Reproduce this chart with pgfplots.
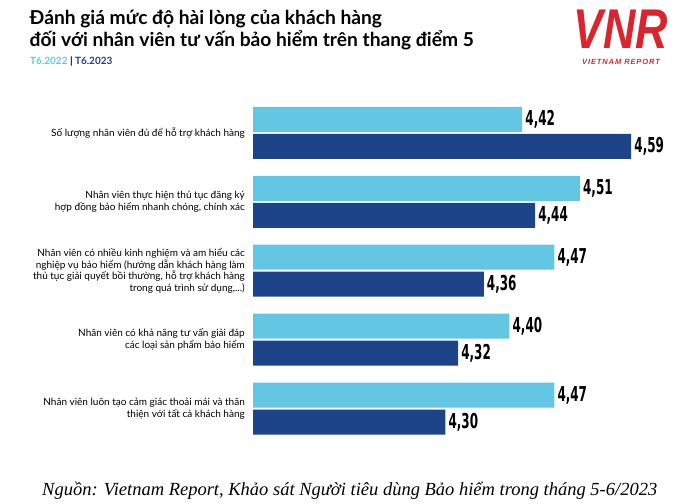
\documentclass[border=0pt]{standalone}
\usepackage{fontspec}
\usepackage{pgfplots}
\pgfplotsset{compat=1.18}
\setmainfont{Lato}
\newfontfamily\numfont[FakeStretch=0.65,BoldFont={DejaVu Sans Condensed Bold}]{DejaVu Sans Condensed}
\newfontfamily\srcfont{Liberation Serif}
\newfontfamily\logofont[LetterSpace=12]{Liberation Sans}
\newfontfamily\logobig{Liberation Sans}
\definecolor{lb}{HTML}{63C7E4}
\definecolor{db}{HTML}{1D4388}
\definecolor{vnr}{HTML}{D9262E}
\begin{document}
\begin{tikzpicture}[x=1pt,y=1pt]
\useasboundingbox (0,0) rectangle (700,503);
\node[anchor=base west, inner sep=0, font=\fontsize{19.2}{22}\selectfont\bfseries] at (29.5,478) {Đánh giá mức độ hài lòng của khách hàng};
\node[anchor=base west, inner sep=0, font=\fontsize{19.2}{22}\selectfont\bfseries] at (29.5,456) {đối với nhân viên tư vấn bảo hiểm trên thang điểm 5};
\node[anchor=base west, inner sep=0, font=\fontsize{10}{12}\selectfont\bfseries] at (30,438) {\textcolor{lb}{T6.2022} | \textcolor{db}{T6.2023}};
\node[anchor=base, inner sep=0, text depth=0pt, text=vnr, font=\fontsize{56}{56}\selectfont\logobig\bfseries\itshape] at (621,454) {\scalebox{0.8}[1]{VNR}};
\node[anchor=base, inner sep=0, text=vnr, font=\fontsize{7.5}{8}\selectfont\logofont\bfseries\itshape] at (621,438) {VIETNAM REPORT};
\node[anchor=base west, inner sep=0, font=\fontsize{18.5}{20}\selectfont\srcfont\itshape] at (42,8) {Nguồn: Vietnam Report, Khảo sát Người tiêu dùng Bảo hiểm trong tháng 5-6/2023};
\begin{axis}[at={(253pt,60pt)}, anchor=south west, scale only axis,
  width=427pt, height=344.5pt,
  xbar, xmin=4, xmax=4.6661, ymin=-0.5, ymax=4.5,
  bar width=25pt, clip mode=individual,
  axis line style={draw=none}, xtick=\empty,
  ytick={0,1,2,3,4},
  yticklabels={
    {Nhân viên luôn tạo cảm giác thoải mái và thân\\thiện với tất cả khách hàng},
    {Nhân viên có khả năng tư vấn giải đáp\\các loại sản phẩm bảo hiểm},
    {Nhân viên có nhiều kinh nghiệm và am hiểu các\\nghiệp vụ bảo hiểm (hướng dẫn khách hàng làm\\thủ tục giải quyết bồi thường, hỗ trợ khách hàng\\trong quá trình sử dụng,{.}{.}{.})},
    {Nhân viên thực hiện thủ tục đăng ký\\hợp đồng bảo hiểm nhanh chóng, chính xác},
    {Số lượng nhân viên đủ để hỗ trợ khách hàng}},
  major tick length=0pt,
  yticklabel style={align=right, font=\fontsize{10}{11.7}\selectfont, inner sep=0pt, xshift=-8pt},
  point meta=x,
  nodes near coords={\pgfmathprintnumber[fixed,fixed zerofill,precision=2,use comma]{\pgfplotspointmeta}},
  every node near coord/.append style={anchor=west, font=\numfont\bfseries\fontsize{20.5}{20.5}\selectfont, inner sep=0pt, xshift=3pt},
  /pgf/number format/assume math mode=true]
\addplot[fill=lb, draw=none, bar shift=13.5pt] coordinates {(4.42,4) (4.51,3) (4.47,2) (4.40,1) (4.47,0)};
\addplot[fill=db, draw=none, bar shift=-13.5pt] coordinates {(4.59,4) (4.44,3) (4.36,2) (4.32,1) (4.30,0)};
\end{axis}
\end{tikzpicture}
\end{document}
